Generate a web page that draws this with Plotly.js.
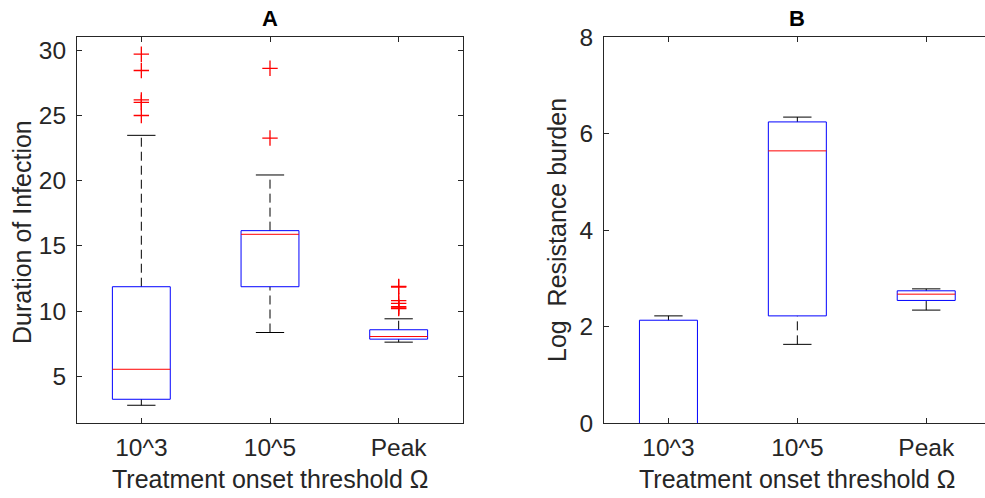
<!DOCTYPE html>
<html>
<head>
<meta charset="utf-8">
<script src="https://cdn.plot.ly/plotly-3.0.1.min.js"></script>
<style>html,body{margin:0;padding:0;background:#fff;}#chart{width:985px;height:498px;}</style>
</head>
<body>
<div id="chart"></div>
<script>
// ---- data ----
const categories = ['10^3', '10^5', 'Peak'];

// Panel A: Duration of Infection
const durLowerWhisker = [2.78, 8.36, 7.62];
const durQ1 = [3.24, 11.87, 7.85];
const durMedian = [5.54, 15.89, 8.05];
const durQ3 = [11.87, 16.17, 8.57];
const durUpperWhisker = [23.48, 20.44, 9.41];
const durOutliers1 = [29.7, 28.45, 26.2, 26.0, 25.0];
const durOutliers2 = [28.62, 23.27];
const durOutliers3 = [11.9, 11.85, 10.8, 10.6, 10.35, 10.25, 10.2];

// Panel B: Log Resistance burden (first box extends below the visible axis)
const resLowerWhisker = [-1.0, 1.63, 2.34];
const resQ1 = [-0.5, 2.22, 2.54];
const resMedian = [-0.2, 5.64, 2.67];
const resQ3 = [2.13, 6.24, 2.74];
const resUpperWhisker = [2.22, 6.34, 2.78];

// ---- styling ----
const W = 985, H = 498;
const FONT = 'Liberation Sans, Arial, Helvetica, sans-serif';
const AX = '#262626';
const BOX_HALF = 0.225, CAP_HALF = 0.11;
const TICK_SIZE = 24.5, LABEL_SIZE = 25, TITLE_SIZE = 22;

function px(x) { return x / W; }
function py(y) { return 1 - y / H; }

function boxTraces(lo, q1, med, q3, hi, outliers, xa, ya) {
  const bx = [], by = [], mx = [], my = [], wx = [], wy = [], cx = [], cy = [];
  const ox = [], oy = [];
  categories.forEach((c, i) => {
    const p = i + 1;
    bx.push(p - BOX_HALF, p + BOX_HALF, p + BOX_HALF, p - BOX_HALF, p - BOX_HALF, null);
    by.push(q1[i], q1[i], q3[i], q3[i], q1[i], null);
    mx.push(p - BOX_HALF, p + BOX_HALF, null);
    my.push(med[i], med[i], null);
    wx.push(p, p, null, p, p, null);
    wy.push(q3[i], hi[i], null, lo[i], q1[i], null);
    cx.push(p - CAP_HALF, p + CAP_HALF, null, p - CAP_HALF, p + CAP_HALF, null);
    cy.push(hi[i], hi[i], null, lo[i], lo[i], null);
    if (outliers && outliers[i]) {
      outliers[i].forEach(v => { ox.push(p); oy.push(v); });
    }
  });
  const base = { type: 'scatter', mode: 'lines', xaxis: xa, yaxis: ya, hoverinfo: 'skip', showlegend: false };
  const t = [
    Object.assign({}, base, { x: wx, y: wy, line: { color: '#000', width: 1, dash: '9px,5px' } }),
    Object.assign({}, base, { x: cx, y: cy, line: { color: '#000', width: 1 } }),
    Object.assign({}, base, { x: bx, y: by, line: { color: '#0000ff', width: 1 } }),
    Object.assign({}, base, { x: mx, y: my, line: { color: '#ff0000', width: 1 } })
  ];
  if (ox.length) {
    t.push({ type: 'scatter', mode: 'markers', x: ox, y: oy, xaxis: xa, yaxis: ya, showlegend: false,
      hoverinfo: 'y', marker: { symbol: 'cross-thin', size: 11, color: '#ff0000', line: { color: '#ff0000', width: 1.3 } } });
  }
  return t;
}

const data = [].concat(
  boxTraces(durLowerWhisker, durQ1, durMedian, durQ3, durUpperWhisker, [durOutliers1, durOutliers2, durOutliers3], 'x', 'y'),
  boxTraces(resLowerWhisker, resQ1, resMedian, resQ3, resUpperWhisker, null, 'x2', 'y2')
);

const axisCommon = {
  showgrid: false, zeroline: false, showline: true, linecolor: AX, linewidth: 1,
  ticks: 'inside', ticklen: 5, tickwidth: 1, tickcolor: AX,
  tickfont: { family: FONT, size: TICK_SIZE, color: AX }
};

const layout = {
  width: W, height: H,
  margin: { l: 0, r: 0, t: 0, b: 0 },
  paper_bgcolor: '#fff', plot_bgcolor: '#fff',
  showlegend: false,
  xaxis: Object.assign({}, axisCommon, {
    domain: [px(77), px(463)], range: [0.5, 3.5], anchor: 'y', mirror: 'ticks',
    tickvals: [1, 2, 3], ticktext: categories, ticklabelstandoff: 3
  }),
  yaxis: Object.assign({}, axisCommon, {
    domain: [py(423), py(37)], range: [1.42, 31.02], anchor: 'x', mirror: 'ticks',
    tickvals: [5, 10, 15, 20, 25, 30], ticklabelstandoff: 5
  }),
  xaxis2: Object.assign({}, axisCommon, {
    domain: [px(604), 1], range: [0.5, 3.456], anchor: 'y2', mirror: 'ticks',
    tickvals: [1, 2, 3], ticktext: categories, ticklabelstandoff: 3
  }),
  yaxis2: Object.assign({}, axisCommon, {
    domain: [py(423), py(37)], range: [0, 8], anchor: 'x2', mirror: false,
    tickvals: [0, 2, 4, 6, 8], ticklabelstandoff: 5
  }),
  annotations: [
    { text: '<b>A</b>', x: px(270), y: py(18), xref: 'paper', yref: 'paper', showarrow: false,
      xanchor: 'center', yanchor: 'middle', font: { family: FONT, size: TITLE_SIZE, color: '#000' } },
    { text: '<b>B</b>', x: px(797), y: py(18), xref: 'paper', yref: 'paper', showarrow: false,
      xanchor: 'center', yanchor: 'middle', font: { family: FONT, size: TITLE_SIZE, color: '#000' } },
    { text: 'Treatment onset threshold Ω', x: px(270), y: py(479), xref: 'paper', yref: 'paper', showarrow: false,
      xanchor: 'center', yanchor: 'middle', font: { family: FONT, size: LABEL_SIZE, color: AX } },
    { text: 'Treatment onset threshold Ω', x: px(797), y: py(479), xref: 'paper', yref: 'paper', showarrow: false,
      xanchor: 'center', yanchor: 'middle', font: { family: FONT, size: LABEL_SIZE, color: AX } },
    { text: 'Duration of Infection', x: px(22), y: py(232), xref: 'paper', yref: 'paper', showarrow: false,
      textangle: -90, xanchor: 'center', yanchor: 'middle', font: { family: FONT, size: LABEL_SIZE, color: AX } },
    { text: 'Log  Resistance burden', x: px(557), y: py(230), xref: 'paper', yref: 'paper', showarrow: false,
      textangle: -90, xanchor: 'center', yanchor: 'middle', font: { family: FONT, size: LABEL_SIZE, color: AX } }
  ]
};

Plotly.newPlot('chart', data, layout, { staticPlot: true, displayModeBar: false });
</script>
</body>
</html>
